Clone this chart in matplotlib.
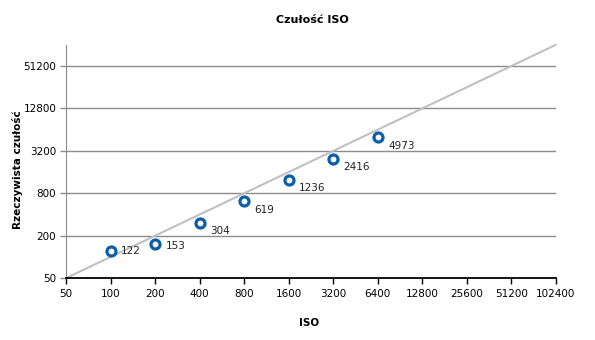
import matplotlib.pyplot as plt
from matplotlib.ticker import FixedLocator, FixedFormatter, NullLocator

iso = [100, 200, 400, 800, 1600, 3200, 6400]
real = [122, 153, 304, 619, 1236, 2416, 4973]
x_ticks = [50, 100, 200, 400, 800, 1600, 3200, 6400, 12800, 25600, 51200, 102400]
y_ticks = [50, 200, 800, 3200, 12800, 51200]
ref_line = [50, 102400]
# vertical shift of each point label, in points
label_dy = [0, -1.5, -5.5, -6.5, -5.5, -5.5, -6]

plt.rcParams['font.family'] = ['DejaVu Sans']
fig = plt.figure(figsize=(5.95, 3.4), dpi=100)
ax = fig.add_axes([0.111, 0.182, 0.823, 0.686])

ax.set_xscale('log', base=2)
ax.set_yscale('log', base=2)
ax.set_xlim(50, 102400)
ax.set_ylim(50, 102400)

# gridlines
for y in y_ticks[1:]:
    ax.axhline(y, color='#8c8c8c', lw=1, zorder=1)

ax.plot(ref_line, ref_line, color='#c0c0c0', lw=1.5, zorder=2, clip_on=False)
ax.plot(iso, real, 'o', ms=6.5, mfc='white', mec='#0a5fa8', mew=2.3, zorder=3)
for x, y, dy in zip(iso, real, label_dy):
    ax.annotate(str(y), (x, y), xytext=(7.5, dy), textcoords='offset points',
                fontsize=7.5, color='#222222', va='center')

ax.xaxis.set_major_locator(FixedLocator(x_ticks))
ax.xaxis.set_major_formatter(FixedFormatter([str(t) for t in x_ticks]))
ax.xaxis.set_minor_locator(NullLocator())
ax.yaxis.set_major_locator(FixedLocator(y_ticks))
ax.yaxis.set_major_formatter(FixedFormatter([str(t) for t in y_ticks]))
ax.yaxis.set_minor_locator(NullLocator())

ax.tick_params(axis='x', direction='out', length=4, width=1, color='black',
               labelsize=7.5, pad=4)
ax.tick_params(axis='y', direction='out', length=4, width=1, color='#8c8c8c',
               labelsize=7.5, pad=3)

for s in ['top', 'right']:
    ax.spines[s].set_visible(False)
ax.spines['left'].set_color('#8c8c8c')
ax.spines['bottom'].set_color('black')
ax.spines['bottom'].set_linewidth(1.3)

fig.text(0.525, 0.94, 'Czułość ISO', ha='center', va='center',
         fontsize=8, fontweight='bold')
fig.text(0.52, 0.05, 'ISO', ha='center', va='center', fontsize=7.5,
         fontweight='bold')
fig.text(0.03, 0.5, 'Rzeczywista czułość', ha='center', va='center',
         rotation=90, fontsize=7.5, fontweight='bold')

fig.savefig('out.png', dpi=100)
